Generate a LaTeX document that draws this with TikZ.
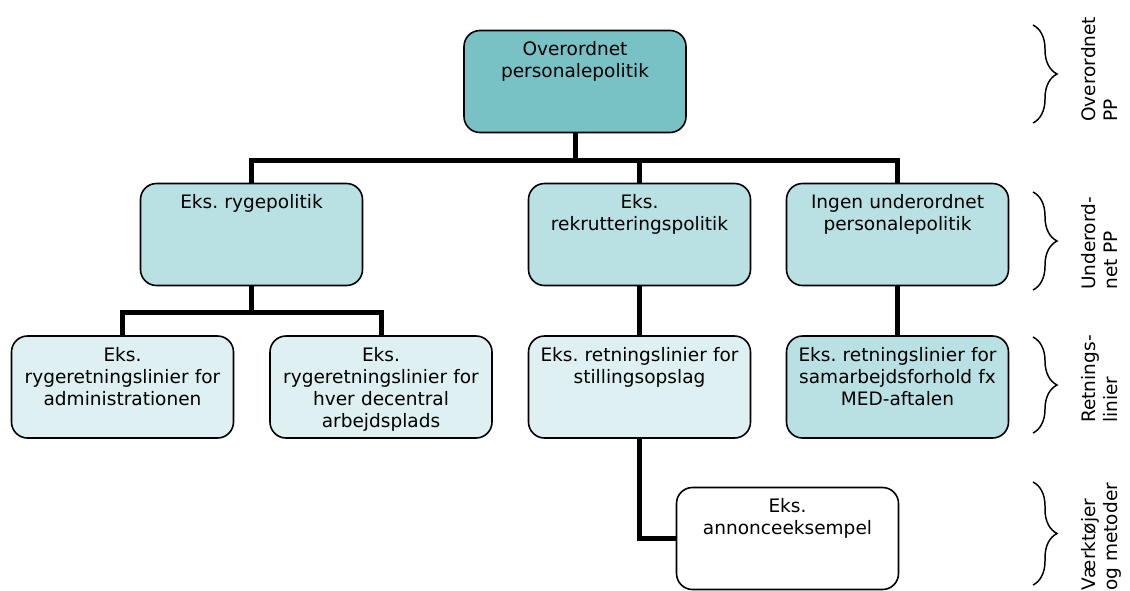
\documentclass[tikz,border=0pt]{standalone}
\usepackage{fontspec}
\setmainfont{DejaVu Sans}
\usetikzlibrary{decorations.pathreplacing}
\frenchspacing

\definecolor{tealdark}{RGB}{120,194,197}
\definecolor{tealmid}{RGB}{185,224,227}
\definecolor{teallight}{RGB}{222,240,241}

\tikzset{
  box/.style={draw, line width=1.2pt, rounded corners=12pt, text width=156pt,
    inner xsep=5.25pt, inner ysep=0pt, align=center, text height=18.75pt,
    text depth=57.75pt, font=\fontsize{13.9}{16.5}\selectfont},
  conn/.style={line width=3.75pt},
  levellabel/.style={rotate=90, anchor=north west, align=left, inner sep=0pt,
    font=\fontsize{13.9}{16.5}\selectfont},
  bracket/.style={line width=1.1pt, decorate, decoration={brace, amplitude=18pt}}
}

\begin{document}
\begin{tikzpicture}[x=0.75pt,y=-0.75pt]
                \useasboundingbox (0,0) rectangle (1130,590);

                % boxes
                \node[box,fill=tealdark] (top) at (575,81.5) {Overordnet\\personalepolitik};
                \node[box,fill=tealmid] (ryge) at (251.5,234.5) {Eks. rygepolitik};
                \node[box,fill=tealmid] (rekrut) at (639.5,234.5) {Eks.\\rekrutteringspolitik};
                \node[box,fill=tealmid] (ingen) at (897.5,234.5) {Ingen underordnet\\personalepolitik};
                \node[box,fill=teallight] (admin) at (122.5,387) {Eks.\\rygeretningslinier for\\administrationen};
                \node[box,fill=teallight] (decentral) at (381,387) {Eks.\\rygeretningslinier for\\hver decentral\\arbejdsplads};
                \node[box,fill=teallight] (stilling) at (639.5,387) {Eks. retningslinier for\\stillingsopslag};
                \node[box,fill=tealmid] (samarb) at (897.5,387) {Eks. retningslinier for\\samarbejdsforhold fx\\MED-aftalen};
                \node[box,fill=white] (annonce) at (787.5,538.5) {Eks.\\annonceeksempel};

                % connectors
                \draw[conn] (top.south) -- ++(0,27) -| (ryge.north);
                \draw[conn] (top.south) -- ++(0,27) -| (rekrut.north);
                \draw[conn] (top.south) -- ++(0,27) -| (ingen.north);
                \draw[conn] (ryge.south) -- ++(0,26) -| (admin.north);
                \draw[conn] (ryge.south) -- ++(0,26) -| (decentral.north);
                \draw[conn] (rekrut.south) -- (stilling.north);
                \draw[conn] (ingen.south) -- (samarb.north);
                \draw[conn] (stilling.south) |- (annonce.west);

                % levels
                \draw[bracket] (1033,25) -- (1033,123);
                \draw[bracket] (1033,192) -- (1033,290);
                \draw[bracket] (1033,337) -- (1033,433);
                \draw[bracket] (1033,482) -- (1033,585);
                \node[levellabel] (lvlA) at (1081,122) {Overordnet\\PP};
                \node[levellabel] (lvlB) at (1081,290) {Underord-\\net PP};
                \node[levellabel] (lvlC) at (1081,423) {Retnings-\\linier};
                \node[levellabel] (lvlD) at (1081,591) {Værktøjer\\og metoder};
            \end{tikzpicture}
\end{document}
